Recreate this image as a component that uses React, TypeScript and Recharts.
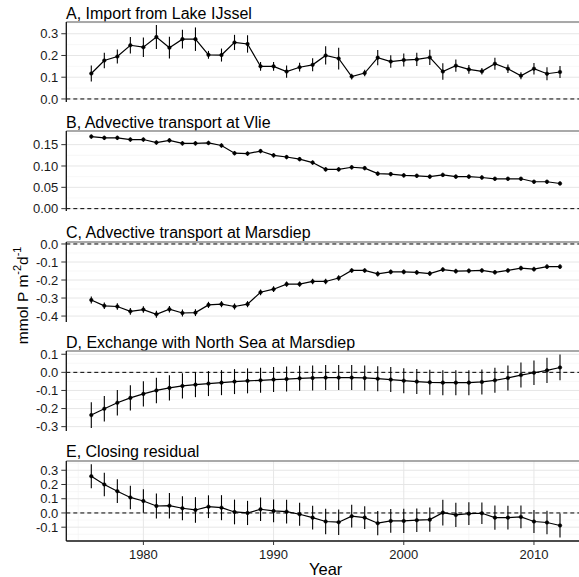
import React from 'react';
import {
  ComposedChart,
  Line,
  XAxis,
  YAxis,
  CartesianGrid,
  ReferenceLine,
  ErrorBar,
} from 'recharts';

// ---- data -------------------------------------------------------------

const YEARS = [
  1976, 1977, 1978, 1979, 1980, 1981, 1982, 1983, 1984, 1985, 1986, 1987, 1988,
  1989, 1990, 1991, 1992, 1993, 1994, 1995, 1996, 1997, 1998, 1999, 2000, 2001,
  2002, 2003, 2004, 2005, 2006, 2007, 2008, 2009, 2010, 2011, 2012,
];

// A, import from Lake IJssel (mmol P m-2 d-1) and its standard error
const IMPORT_IJSSEL = [
  0.117, 0.177, 0.195, 0.247, 0.238, 0.285, 0.236, 0.275, 0.275, 0.203, 0.202,
  0.26, 0.253, 0.15, 0.15, 0.126, 0.146, 0.157, 0.2, 0.186, 0.103, 0.119,
  0.19, 0.172, 0.179, 0.182, 0.191, 0.126, 0.153, 0.136, 0.127, 0.162, 0.139,
  0.107, 0.139, 0.116, 0.124,
];
const IMPORT_IJSSEL_SE = [
  0.037, 0.036, 0.032, 0.038, 0.045, 0.055, 0.05, 0.043, 0.054, 0.018, 0.03,
  0.035, 0.04, 0.02, 0.02, 0.028, 0.02, 0.03, 0.042, 0.05, 0.013, 0.015,
  0.035, 0.029, 0.03, 0.03, 0.035, 0.038, 0.028, 0.02, 0.015, 0.028, 0.02,
  0.016, 0.026, 0.03, 0.028,
];

// B, advective transport at Vlie
const VLIE = [
  0.169, 0.166, 0.166, 0.162, 0.162, 0.155, 0.16, 0.153, 0.153, 0.154, 0.148,
  0.13, 0.129, 0.135, 0.125, 0.121, 0.116, 0.108, 0.092, 0.092, 0.097, 0.095,
  0.082, 0.081, 0.078, 0.077, 0.075, 0.079, 0.075, 0.075, 0.073, 0.07, 0.07,
  0.07, 0.063, 0.063, 0.059,
];
const VLIE_SE = [
  0.005, 0.005, 0.005, 0.005, 0.005, 0.005, 0.005, 0.005, 0.005, 0.005, 0.005,
  0.005, 0.005, 0.005, 0.005, 0.005, 0.005, 0.005, 0.005, 0.005, 0.005, 0.005,
  0.005, 0.005, 0.005, 0.005, 0.005, 0.005, 0.005, 0.005, 0.005, 0.005, 0.005,
  0.005, 0.005, 0.005, 0.005,
];

// C, advective transport at Marsdiep
const MARSDIEP = [
  -0.311, -0.343, -0.347, -0.374, -0.364, -0.39, -0.362, -0.383, -0.381,
  -0.338, -0.334, -0.347, -0.334, -0.268, -0.251, -0.223, -0.223, -0.208,
  -0.208, -0.189, -0.147, -0.147, -0.166, -0.155, -0.155, -0.158, -0.164,
  -0.142, -0.151, -0.149, -0.147, -0.157, -0.147, -0.134, -0.14, -0.126,
  -0.126,
];
const MARSDIEP_SE = [
  0.02, 0.018, 0.018, 0.019, 0.018, 0.02, 0.018, 0.019, 0.019, 0.017, 0.017,
  0.017, 0.017, 0.016, 0.016, 0.015, 0.015, 0.015, 0.015, 0.015, 0.013, 0.013,
  0.014, 0.013, 0.013, 0.013, 0.014, 0.013, 0.013, 0.013, 0.013, 0.013, 0.013,
  0.013, 0.013, 0.013, 0.013,
];

// D, exchange with the North Sea at Marsdiep
const EXCHANGE = [
  -0.236, -0.201, -0.168, -0.141, -0.119, -0.1, -0.086, -0.075, -0.068,
  -0.062, -0.057, -0.051, -0.047, -0.044, -0.04, -0.037, -0.033, -0.031,
  -0.029, -0.029, -0.029, -0.031, -0.035, -0.04, -0.046, -0.051, -0.055,
  -0.057, -0.057, -0.057, -0.053, -0.044, -0.031, -0.015, -0.002, 0.011,
  0.027,
];
const EXCHANGE_SE = [
  0.071, 0.07, 0.07, 0.07, 0.07, 0.07, 0.07, 0.07, 0.069, 0.069, 0.069, 0.069,
  0.069, 0.069, 0.069, 0.069, 0.069, 0.069, 0.069, 0.069, 0.069, 0.069,
  0.069, 0.069, 0.069, 0.069, 0.069, 0.069, 0.069, 0.069, 0.069, 0.069,
  0.069, 0.069, 0.068, 0.07, 0.071,
];

// E, closing residual
const RESIDUAL = [
  0.258, 0.2, 0.153, 0.109, 0.084, 0.049, 0.051, 0.033, 0.021, 0.044, 0.037,
  0.007, 0.0, 0.026, 0.014, 0.009, -0.009, -0.033, -0.06, -0.065, -0.023,
  -0.033, -0.072, -0.056, -0.056, -0.051, -0.047, 0.002, -0.014, -0.005,
  -0.002, -0.033, -0.033, -0.028, -0.06, -0.067, -0.088,
];
const RESIDUAL_SE = [
  0.085, 0.082, 0.083, 0.083, 0.083, 0.088, 0.09, 0.085, 0.09, 0.08, 0.088,
  0.087, 0.085, 0.083, 0.08, 0.083, 0.08, 0.083, 0.09, 0.09, 0.08, 0.08,
  0.085, 0.083, 0.085, 0.083, 0.085, 0.09, 0.085, 0.08, 0.075, 0.085, 0.083,
  0.08, 0.08, 0.083, 0.085,
];

const PANEL_TITLES = [
  'A, Import from Lake IJssel',
  'B, Advective transport at Vlie',
  'C, Advective transport at Marsdiep',
  'D, Exchange with North Sea at Marsdiep',
  'E, Closing residual',
];

const YEAR_TICKS = [1980, 1990, 2000, 2010];
const YEAR_MINOR = [1975, 1985, 1995, 2005];

const A_TICKS = [0, 0.1, 0.2, 0.3];
const A_MINOR = [0.05, 0.15, 0.25, 0.35];
const B_TICKS = [0, 0.05, 0.1, 0.15];
const B_MINOR = [0.025, 0.075, 0.125, 0.175];
const C_TICKS = [-0.4, -0.3, -0.2, -0.1, 0];
const C_MINOR = [-0.35, -0.25, -0.15, -0.05];
const D_TICKS = [-0.3, -0.2, -0.1, 0, 0.1];
const D_MINOR = [-0.25, -0.15, -0.05, 0.05];
const E_TICKS = [-0.1, 0, 0.1, 0.2, 0.3];
const E_MINOR = [-0.15, -0.05, 0.05, 0.15, 0.25, 0.35];

// ---- layout -----------------------------------------------------------

const FONT = '"Liberation Sans", Arial, Helvetica, sans-serif';
const PAGE_W = 579;
const PAGE_H = 577;
const PLOT_LEFT = 66.3;
const CHART_W = 585;
const PLOT_H = 80;
const PAD = 10; // room above/below each panel so edge tick labels are not clipped
const X_AXIS_H = 36;
const PANEL_TOPS = [22, 131.3, 241.5, 351, 460.7];
const X_DOMAIN: [number, number] = [1974.08, 2013.92];

type PanelSpec = {
  title: string;
  values: number[];
  errors: number[];
  domain: [number, number];
  ticks: number[];
  minor: number[];
  decimals: number;
};

const PANELS: PanelSpec[] = [
  { title: PANEL_TITLES[0], values: IMPORT_IJSSEL, errors: IMPORT_IJSSEL_SE, domain: [-0.014, 0.354], ticks: A_TICKS, minor: A_MINOR, decimals: 1 },
  { title: PANEL_TITLES[1], values: VLIE, errors: VLIE_SE, domain: [-0.0055, 0.182], ticks: B_TICKS, minor: B_MINOR, decimals: 2 },
  { title: PANEL_TITLES[2], values: MARSDIEP, errors: MARSDIEP_SE, domain: [-0.433, 0.011], ticks: C_TICKS, minor: C_MINOR, decimals: 1 },
  { title: PANEL_TITLES[3], values: EXCHANGE, errors: EXCHANGE_SE, domain: [-0.324, 0.118], ticks: D_TICKS, minor: D_MINOR, decimals: 1 },
  { title: PANEL_TITLES[4], values: RESIDUAL, errors: RESIDUAL_SE, domain: [-0.197, 0.365], ticks: E_TICKS, minor: E_MINOR, decimals: 1 },
];

function Panel({ spec, top, last }: { spec: PanelSpec; top: number; last: boolean }) {
  const rows = YEARS.map((year, i) => ({ year, v: spec.values[i], err: spec.errors[i] }));
  const fmt = (v: number) => v.toFixed(spec.decimals);
  const tickText = { fill: '#1a1a1a', fontSize: 13, fontFamily: FONT };
  return (
    <>
      <div
        style={{
          position: 'absolute',
          left: 66,
          top: top - 16.5,
          fontFamily: FONT,
          fontSize: 16,
          lineHeight: '16px',
          color: '#000',
          whiteSpace: 'nowrap',
        }}
      >
        {spec.title}
      </div>
      <div style={{ position: 'absolute', left: 0, top: top - PAD }}>
        <ComposedChart
          width={CHART_W}
          height={PAD + PLOT_H + (last ? X_AXIS_H : PAD)}
          data={rows}
          margin={{ top: PAD, right: 0, bottom: last ? 0 : PAD, left: 0 }}
        >
          <CartesianGrid
            stroke="#f3f3f3"
            strokeWidth={0.7}
            verticalValues={YEAR_MINOR}
            horizontalValues={spec.minor}
          />
          <CartesianGrid
            stroke="#e6e6e6"
            strokeWidth={1}
            verticalValues={YEAR_TICKS}
            horizontalValues={spec.ticks}
          />
          <XAxis
            type="number"
            dataKey="year"
            domain={X_DOMAIN}
            allowDataOverflow
            ticks={YEAR_TICKS}
            interval={0}
            height={last ? X_AXIS_H : 0}
            tick={last ? tickText : false}
            tickLine={last ? { stroke: '#333', strokeWidth: 1 } : false}
            tickSize={4}
            tickMargin={5}
            axisLine={{ stroke: '#111', strokeWidth: 1.3 }}
          />
          <YAxis
            type="number"
            domain={spec.domain}
            allowDataOverflow
            ticks={spec.ticks}
            interval={0}
            width={PLOT_LEFT}
            tickFormatter={fmt}
            tick={tickText}
            tickLine={{ stroke: '#333', strokeWidth: 1 }}
            tickSize={5}
            tickMargin={3}
            axisLine={{ stroke: '#111', strokeWidth: 1.3 }}
          />
          <ReferenceLine y={spec.domain[1]} stroke="#8c8c8c" strokeWidth={1.3} />
          <ReferenceLine y={0} stroke="#000" strokeWidth={1} strokeDasharray="4 3" />
          <Line
            dataKey="v"
            type="linear"
            stroke="#000"
            strokeWidth={1.2}
            dot={{ r: 1.8, fill: '#000', stroke: '#000', strokeWidth: 0.5 }}
            activeDot={false}
            isAnimationActive={false}
          >
            <ErrorBar dataKey="err" width={0} stroke="#000" strokeWidth={1.1} direction="y" isAnimationActive={false} />
          </Line>
        </ComposedChart>
      </div>
    </>
  );
}

export default function App() {
  const plotTop = PANEL_TOPS[0];
  const plotBottom = PANEL_TOPS[PANEL_TOPS.length - 1] + PLOT_H;
  const yLabelCenter = (plotTop + plotBottom) / 2 + 14;
  const plotCenterX = PLOT_LEFT + (CHART_W - PLOT_LEFT) / 2;
  return (
    <div
      style={{
        position: 'absolute',
        left: 0,
        top: 0,
        width: PAGE_W,
        height: PAGE_H,
        overflow: 'hidden',
        background: '#fff',
      }}
    >
      {PANELS.map((p, i) => (
        <Panel key={p.title} spec={p} top={PANEL_TOPS[i]} last={i === PANELS.length - 1} />
      ))}
      <div
        style={{
          position: 'absolute',
          left: plotCenterX - 60,
          width: 120,
          top: 561,
          textAlign: 'center',
          fontFamily: FONT,
          fontSize: 16.5,
          lineHeight: '16px',
          color: '#000',
        }}
      >
        Year
      </div>
      <svg
        width={40}
        height={PAGE_H}
        style={{ position: 'absolute', left: 0, top: 0, overflow: 'visible' }}
      >
        <text
          x={27.7}
          y={yLabelCenter}
          transform={`rotate(-90, 27.7, ${yLabelCenter})`}
          textAnchor="middle"
          fontFamily={FONT}
          fontSize={15.5}
          fill="#000"
        >
          mmol P m
          <tspan fontSize={11} dy={-7}>-2</tspan>
          <tspan dy={7}>d</tspan>
          <tspan fontSize={11} dy={-7}>-1</tspan>
        </text>
      </svg>
    </div>
  );
}
